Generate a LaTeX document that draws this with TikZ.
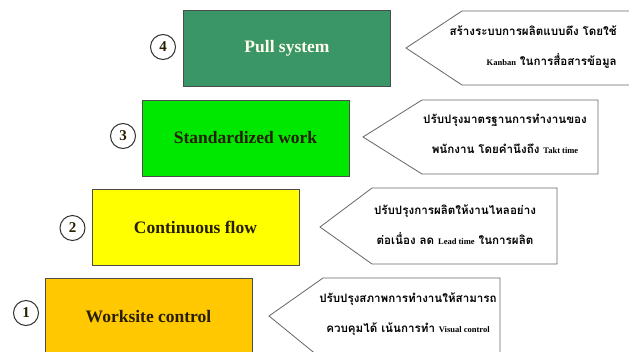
\documentclass[tikz,border=0pt]{standalone}
\usepackage{fontspec}
\setmainfont{Liberation Serif}
\newfontfamily\thaifont[Script=Thai]{Loma}
\newcommand{\lt}[1]{{\fontsize{8.5}{10}\selectfont\rmfamily\bfseries #1}}
\definecolor{cfour}{RGB}{58,150,102}
\definecolor{cthree}{RGB}{0,232,0}
\definecolor{ctwo}{RGB}{255,255,0}
\definecolor{cone}{RGB}{255,200,0}
\definecolor{txt}{RGB}{40,30,0}
\begin{document}
\begin{tikzpicture}[x=1pt,y=-1pt,
  stage/.style={draw=black!70,line width=0.8pt,minimum width=207pt,minimum height=76pt,inner sep=0pt,text=txt,font=\fontsize{17.5}{20}\selectfont\bfseries},
  num/.style={circle,draw=black!80,line width=1pt,minimum size=25pt,inner sep=0pt,text=txt,font=\fontsize{15}{15}\selectfont\bfseries},
  callout/.style={draw=black!60,line width=0.8pt,fill=white},
  ctext/.style={align=center,font=\thaifont\bfseries\fontsize{11.6}{30}\selectfont,inner sep=0pt,text=black}]
\useasboundingbox (0,0) rectangle (629,351);
\clip (0,0) rectangle (629,351);
\fill[white] (0,0) rectangle (629,351);

% stages
\node[stage,fill=cfour,text=white!92!yellow] (s4) at (287,48.5) {Pull system};
\node[stage,fill=cthree] (s3) at (245.5,138) {Standardized work};
\node[stage,fill=ctwo] (s2) at (195.5,227.5) {Continuous flow};
\node[stage,fill=cone] (s1) at (148.5,316.5) {Worksite control};

% numbers
\node[num] (n4) at (163,47) {4};
\node[num] (n3) at (123,136) {3};
\node[num] (n2) at (72.5,228) {2};
\node[num] (n1) at (26,313) {1};

% callouts
\draw[callout] (406,48) -- (462,11) -- (640,11) -- (640,85) -- (462,85) -- cycle;
\draw[callout] (363,137) -- (422,100) -- (598,100) -- (598,174) -- (422,174) -- cycle;
\draw[callout] (320,227) -- (372,188) -- (557,188) -- (557,264) -- (372,264) -- cycle;
\draw[callout] (269,316) -- (323,278) -- (500,278) -- (500,360) -- (323,360) -- cycle;

\node[ctext,align=right,anchor=east] (t4) at (617,47) {สร้างระบบการผลิตแบบดึง โดยใช้\\\lt{Kanban} ในการสื่อสารข้อมูล};
\node[ctext] (t3) at (505,134) {ปรับปรุงมาตรฐานการทำงานของ\\พนักงาน โดยคำนึงถึง \lt{Takt time}};
\node[ctext] (t2) at (455,225) {ปรับปรุงการผลิตให้งานไหลอย่าง\\ต่อเนื่อง ลด \lt{Lead time} ในการผลิต};
\node[ctext] (t1) at (408,314) {ปรับปรุงสภาพการทำงานให้สามารถ\\ควบคุมได้ เน้นการทำ \lt{Visual control}};
\end{tikzpicture}
\end{document}
